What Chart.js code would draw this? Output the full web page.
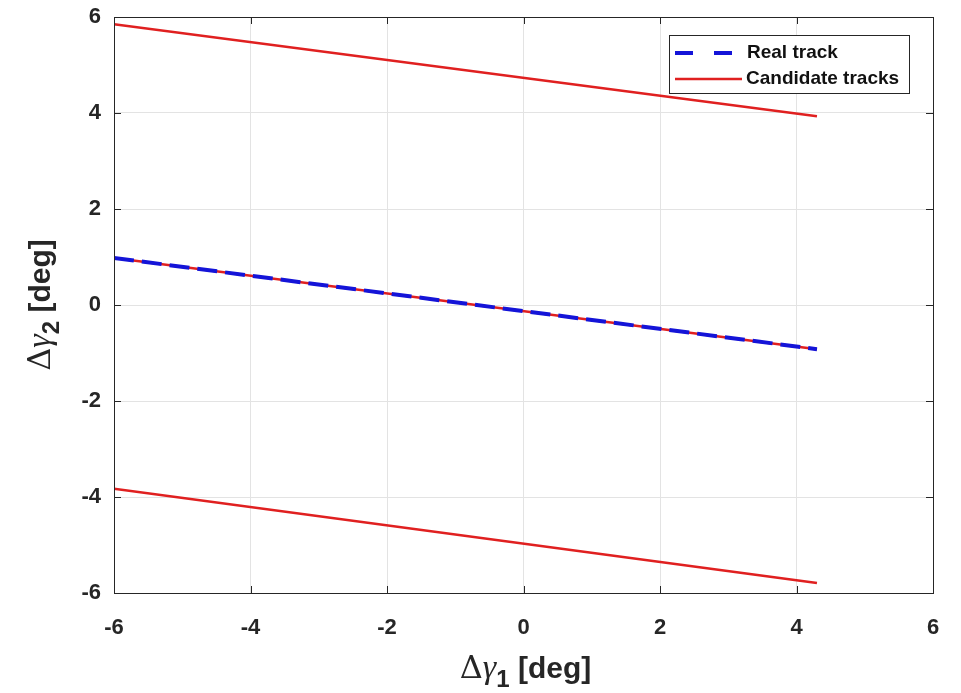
<!DOCTYPE html>
<html>
<head>
  <script src="https://cdn.jsdelivr.net/npm/chart.js"></script>
  <style>
    html, body { margin: 0; padding: 0; background: #fff; }
    #wrap { width: 961px; height: 693px; }
  </style>
</head>
<body>

<div id="wrap"><canvas id="chart"></canvas></div>

<script>
// x extent of the tracks
const trackX = [-6, 4.3];
// candidate tracks (y at start and end)
const candTop = [5.85, 3.93];
const candMid = [0.98, -0.92];
const candBot = [-3.83, -5.79];
// real track
const realTrack = [0.98, -0.92];

const xTicks = [-6, -4, -2, 0, 2, 4, 6];
const yTicks = [-6, -4, -2, 0, 2, 4, 6];

const legendLabels = ["Real track", "Candidate tracks"];

const RED = "#e02020";
const BLUE = "#1414d8";

function pts(ys) {
  return trackX.map((x, i) => ({ x: x, y: ys[i] }));
}

// draw box, inner ticks, axis titles and legend the MATLAB way
const extras = {
  id: "extras",
  afterDraw(chart) {
    const ctx = chart.ctx;
    const a = chart.chartArea;
    const sx = chart.scales.x, sy = chart.scales.y;
    ctx.save();
    ctx.strokeStyle = "#262626";
    ctx.lineWidth = 1;
    ctx.strokeRect(a.left + 0.5, a.top + 0.5, a.right - a.left, a.bottom - a.top);

    // inward tick marks
    ctx.beginPath();
    xTicks.forEach(v => {
      const px = Math.round(sx.getPixelForValue(v)) + 0.5;
      ctx.moveTo(px, a.bottom); ctx.lineTo(px, a.bottom - 7);
      ctx.moveTo(px, a.top); ctx.lineTo(px, a.top + 7);
    });
    yTicks.forEach(v => {
      const py = Math.round(sy.getPixelForValue(v)) + 0.5;
      ctx.moveTo(a.left, py); ctx.lineTo(a.left + 7, py);
      ctx.moveTo(a.right, py); ctx.lineTo(a.right - 7, py);
    });
    ctx.stroke();

    // axis titles
    function title(cx, cy, sub, rot) {
      ctx.save();
      ctx.translate(cx, cy);
      if (rot) ctx.rotate(-Math.PI / 2);
      ctx.fillStyle = "#262626";
      ctx.textBaseline = "alphabetic";
      const f1 = "32px 'DejaVu Serif'";
      const f2 = "italic 34px 'Liberation Serif'";
      const f3 = "bold 24px 'Liberation Sans'";
      const f4 = "bold 30px 'Liberation Sans'";
      const parts = [["\u0394", f1, 0], ["\u03b3", f2, 0], [sub, f3, 9], [" [deg]", f4, 0]];
      let w = 0;
      parts.forEach(p => { ctx.font = p[1]; w += ctx.measureText(p[0]).width; });
      let x = -w / 2;
      parts.forEach(p => {
        ctx.font = p[1];
        ctx.fillText(p[0], x, 10 + p[2]);
        x += ctx.measureText(p[0]).width;
      });
      ctx.restore();
    }
    title((a.left + a.right) / 2 + 2, 668, "1", false);
    title(40, (a.top + a.bottom) / 2, "2", true);

    // legend
    const lx = 669, ly = 35, lw = 240, lh = 58;
    ctx.fillStyle = "#fff";
    ctx.fillRect(lx, ly, lw, lh);
    ctx.strokeStyle = "#262626";
    ctx.lineWidth = 1;
    ctx.strokeRect(lx + 0.5, ly + 0.5, lw, lh);
    ctx.lineCap = "butt";
    ctx.strokeStyle = BLUE;
    ctx.lineWidth = 4;
    ctx.setLineDash([18, 21]);
    ctx.beginPath();
    ctx.moveTo(675, 53);
    ctx.lineTo(736, 53);
    ctx.stroke();
    ctx.setLineDash([]);
    ctx.strokeStyle = RED;
    ctx.lineWidth = 2.5;
    ctx.beginPath();
    ctx.moveTo(675, 79);
    ctx.lineTo(742, 79);
    ctx.stroke();
    ctx.fillStyle = "#111";
    ctx.font = "bold 19px 'Liberation Sans'";
    ctx.textBaseline = "middle";
    ctx.fillText(legendLabels[0], 747, 53);
    ctx.fillText(legendLabels[1], 746, 79);
    ctx.restore();
  }
};

new Chart(document.getElementById("chart"), {
  type: "scatter",
  data: {
    datasets: [
      { label: "Candidate tracks", data: pts(candTop), borderColor: RED, borderWidth: 2.5, order: 2 },
      { label: "Candidate mid", data: pts(candMid), borderColor: RED, borderWidth: 2.5, order: 2 },
      { label: "Candidate bottom", data: pts(candBot), borderColor: RED, borderWidth: 2.5, order: 2 },
      { label: "Real track", data: pts(realTrack), borderColor: BLUE, borderWidth: 4, borderDash: [20, 8], order: 1 }
    ].map(d => Object.assign(d, { showLine: true, pointRadius: 0, fill: false, tension: 0 }))
  },
  options: {
    responsive: true,
    maintainAspectRatio: false,
    animation: false,
    layout: { padding: { left: 0, right: 28, top: 17, bottom: 0 } },
    plugins: { legend: { display: false }, tooltip: { enabled: false } },
    scales: {
      x: {
        type: "linear",
        min: -6, max: 6,
        afterBuildTicks: s => { s.ticks = xTicks.map(v => ({ value: v })); },
        afterFit: s => { s.height = 100; s.paddingLeft = 0; s.paddingRight = 0; },
        grid: { color: "#e3e3e3", drawTicks: false },
        border: { color: "#262626" },
        ticks: { padding: 22, color: "#262626", font: { family: "Liberation Sans", size: 22, weight: "bold" } }
      },
      y: {
        type: "linear",
        min: -6, max: 6,
        afterBuildTicks: s => { s.ticks = yTicks.map(v => ({ value: v })); },
        afterFit: s => { s.width = 114; s.paddingTop = 0; s.paddingBottom = 0; },
        grid: { color: "#e3e3e3", drawTicks: false },
        border: { color: "#262626" },
        ticks: { padding: 13, color: "#262626", font: { family: "Liberation Sans", size: 22, weight: "bold" } }
      }
    }
  },
  plugins: [extras]
});
</script>

</body>
</html>
